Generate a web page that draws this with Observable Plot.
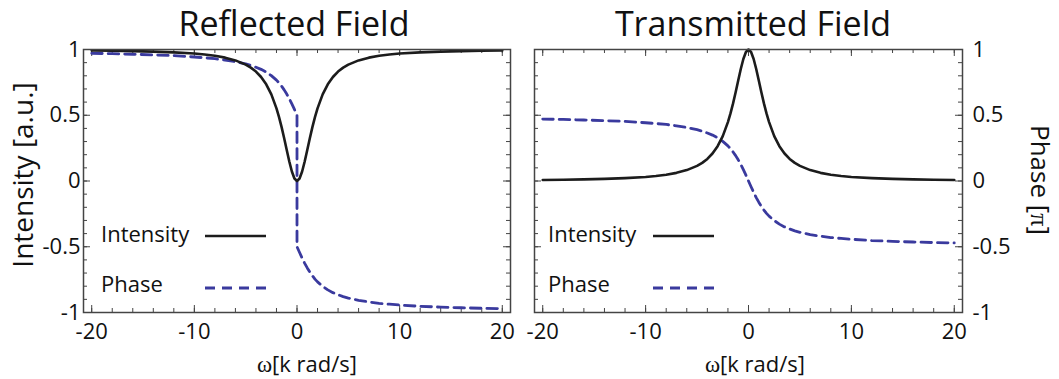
<!DOCTYPE html>
<html>
<head>
<meta charset="utf-8">
<script src="https://cdn.jsdelivr.net/npm/d3@7"></script>
<script src="https://cdn.jsdelivr.net/npm/@observablehq/plot@0.6"></script>
<style>
  html, body { margin: 0; padding: 0; background: #fff; }
  #wrap { position: relative; width: 1059px; height: 379px; overflow: hidden; font-family: 'Open Sans', sans-serif; }
  #wrap > .panel { position: absolute; top: 0; }
  #wrap svg { overflow: visible; }
  #overlay { position: absolute; left: 0; top: 0; pointer-events: none; }
</style>
</head>
<body>
<div id="wrap"></div>
<script>
// ---------------- data ----------------
const panelTitles = ["Reflected Field", "Transmitted Field"];
const xLabelText = "k rad/s";
const legendLabels = ["Intensity", "Phase"];
const xTicks = [-20, -10, 0, 10, 20];
const xMinorTicks = [-20, -18, -16, -14, -12, -10, -8, -6, -4, -2, 0, 2, 4, 6, 8, 10, 12, 14, 16, 18, 20];
const yTicks = [-1, -0.5, 0, 0.5, 1];
const yTickLabels = ["-1", "-0.5", "0", "0.5", "1"];
const yMinorTicks = [-1, -0.9, -0.8, -0.7, -0.6, -0.5, -0.4, -0.3, -0.2, -0.1, 0, 0.1, 0.2, 0.3, 0.4, 0.5, 0.6, 0.7, 0.8, 0.9, 1];

const omega = [-20, -18, -16, -14, -12, -10, -9, -8, -7, -6, -5, -4.5, -4, -3.5, -3, -2.5, -2, -1.75, -1.5, -1.25, -1, -0.75, -0.5, -0.25,
  0, 0.25, 0.5, 0.75, 1, 1.25, 1.5, 1.75, 2, 2.5, 3, 3.5, 4, 4.5, 5, 6, 7, 8, 9, 10, 12, 14, 16, 18, 20];

const reflIntensity = [0.992, 0.990, 0.988, 0.984, 0.978, 0.969, 0.962, 0.952, 0.938, 0.917, 0.885, 0.862, 0.832, 0.791, 0.735, 0.659, 0.552, 0.486, 0.410, 0.325, 0.236, 0.148, 0.072, 0.019,
  0, 0.019, 0.072, 0.148, 0.236, 0.325, 0.410, 0.486, 0.552, 0.659, 0.735, 0.791, 0.832, 0.862, 0.885, 0.917, 0.938, 0.952, 0.962, 0.969, 0.978, 0.984, 0.988, 0.990, 0.992];

// reflected phase jumps from +0.5 to -0.5 at omega = 0 (vertical segment)
const reflPhaseOmega = [-20, -18, -16, -14, -12, -10, -9, -8, -7, -6, -5, -4.5, -4, -3.5, -3, -2.5, -2, -1.75, -1.5, -1.25, -1, -0.75, -0.5, -0.25,
  0, 0, 0.25, 0.5, 0.75, 1, 1.25, 1.5, 1.75, 2, 2.5, 3, 3.5, 4, 4.5, 5, 6, 7, 8, 9, 10, 12, 14, 16, 18, 20];
const reflPhase = [0.971, 0.968, 0.964, 0.959, 0.953, 0.943, 0.937, 0.930, 0.920, 0.907, 0.890, 0.879, 0.865, 0.849, 0.828, 0.801, 0.767, 0.746, 0.721, 0.693, 0.661, 0.626, 0.586, 0.544,
  0.5, -0.5, -0.544, -0.586, -0.626, -0.661, -0.693, -0.721, -0.746, -0.767, -0.801, -0.828, -0.849, -0.865, -0.879, -0.890, -0.907, -0.920, -0.930, -0.937, -0.943, -0.953, -0.959, -0.964, -0.968, -0.971];

const transIntensity = [0.008, 0.010, 0.012, 0.016, 0.022, 0.031, 0.038, 0.048, 0.062, 0.083, 0.115, 0.138, 0.168, 0.209, 0.265, 0.341, 0.448, 0.514, 0.590, 0.675, 0.764, 0.852, 0.928, 0.981,
  1, 0.981, 0.928, 0.852, 0.764, 0.675, 0.590, 0.514, 0.448, 0.341, 0.265, 0.209, 0.168, 0.138, 0.115, 0.083, 0.062, 0.048, 0.038, 0.031, 0.022, 0.016, 0.012, 0.010, 0.008];

const transPhase = [0.471, 0.468, 0.464, 0.459, 0.453, 0.443, 0.437, 0.430, 0.420, 0.407, 0.390, 0.379, 0.365, 0.349, 0.328, 0.301, 0.267, 0.246, 0.221, 0.193, 0.161, 0.126, 0.086, 0.044,
  0, -0.044, -0.086, -0.126, -0.161, -0.193, -0.221, -0.246, -0.267, -0.301, -0.328, -0.349, -0.365, -0.379, -0.390, -0.407, -0.420, -0.430, -0.437, -0.443, -0.453, -0.459, -0.464, -0.468, -0.471];

// ---------------- drawing ----------------
const W = 1059, H = 379;
const INK = "#1c1c1c", BLUE = "#3a3a9e", FRAME = "#444";
const DASH = "10.5,6";
const FONT = "'Open Sans', sans-serif";
const mT = 49, mB = 67;
const frameH = H - mT - mB;

const toRows = (xs, ys) => xs.map((w, i) => ({w, v: ys[i]}));

function panel({left, width, mL, mR, intensity, phase, phaseX, yAnchor, yPad}) {
  const frameW = width - mL - mR;
  const tickMarks = (vals, len) => [
    Plot.tickX(vals, {x: d => d, insetTop: frameH - len, stroke: FRAME, strokeWidth: 1}),
    Plot.tickX(vals, {x: d => d, insetBottom: frameH - len, stroke: FRAME, strokeWidth: 1})
  ];
  const tickMarksY = (vals, len) => [
    Plot.tickY(vals, {y: d => d, insetRight: frameW - len, stroke: FRAME, strokeWidth: 1}),
    Plot.tickY(vals, {y: d => d, insetLeft: frameW - len, stroke: FRAME, strokeWidth: 1})
  ];
  const chart = Plot.plot({
    width, height: H,
    marginLeft: mL, marginRight: mR, marginTop: mT, marginBottom: mB,
    x: {domain: [-20.8, 20.8]},
    y: {domain: [-1, 1]},
    style: {fontFamily: FONT, fontSize: "22px", color: "#111", background: "transparent", overflow: "visible"},
    marks: [
      ...tickMarks(xMinorTicks, 4),
      ...tickMarks(xTicks, 7),
      ...tickMarksY(yMinorTicks, 4),
      ...tickMarksY(yTicks, 7),
      Plot.axisX({ticks: xTicks, tickSize: 0, tickPadding: 11, label: null, tickFormat: d => String(d), fill: "#111"}),
      Plot.axisY({anchor: yAnchor, ticks: yTicks, tickSize: 0, tickPadding: yPad, label: null,
        tickFormat: d => yTickLabels[yTicks.indexOf(d)], fill: "#111"}),
      Plot.line(toRows(phaseX, phase), {x: "w", y: "v", stroke: BLUE, strokeWidth: 2.8, strokeDasharray: DASH, curve: "linear"}),
      Plot.line(toRows(omega, intensity), {x: "w", y: "v", stroke: INK, strokeWidth: 2.6, curve: "linear"}),
      Plot.frame({stroke: FRAME, strokeWidth: 1.5})
    ]
  });
  const div = document.createElement("div");
  div.className = "panel";
  div.style.left = left + "px";
  div.appendChild(chart);
  return div;
}

const wrap = document.getElementById("wrap");
wrap.appendChild(panel({left: 0, width: 530, mL: 83, mR: 20, intensity: reflIntensity, phase: reflPhase, phaseX: reflPhaseOmega, yAnchor: "left", yPad: 3}));
wrap.appendChild(panel({left: 530, width: 529, mL: 4, mR: 97, intensity: transIntensity, phase: transPhase, phaseX: omega, yAnchor: "right", yPad: 10}));

// overlay: titles, axis titles, legends
const svg = d3.select(wrap).append("svg").attr("id", "overlay").attr("width", W).attr("height", H)
  .style("font-family", FONT).style("fill", "#111");

const titleX = [294, 753];
panelTitles.forEach((t, i) => {
  svg.append("text").attr("x", titleX[i]).attr("y", 36).attr("text-anchor", "middle")
    .style("font-size", "34px").text(t);
});

// x-axis titles
[307, 755].forEach(cx => {
  const t = svg.append("text").attr("x", cx).attr("y", 372).attr("text-anchor", "middle").style("font-size", "22px");
  t.append("tspan").style("font-family", "'Liberation Serif', 'DejaVu Serif', serif").style("font-size", "23px").text("ω");
  t.append("tspan").text("[" + xLabelText + "]");
});

// left y title
svg.append("text").attr("transform", "translate(33,175) rotate(-90)").attr("text-anchor", "middle")
  .style("font-size", "28px").text("Intensity [a.u.]");

// right y title
const pt = svg.append("text").attr("transform", "translate(1031,180) rotate(90)").attr("text-anchor", "middle")
  .style("font-size", "26px");
pt.append("tspan").text("Phase [");
pt.append("tspan").style("font-family", "'Liberation Serif', 'DejaVu Serif', serif").text("π");
pt.append("tspan").text("]");

// legends
const legendPos = [{tx: 101, lx1: 205, lx2: 266}, {tx: 548, lx1: 653, lx2: 714}];
const legendRows = [{ly: 236, ty: 242}, {ly: 288, ty: 292}];
legendPos.forEach(p => {
  legendLabels.forEach((lab, j) => {
    const r = legendRows[j];
    svg.append("text").attr("x", p.tx).attr("y", r.ty).style("font-size", "22px").text(lab);
    svg.append("line").attr("x1", p.lx1).attr("x2", p.lx2).attr("y1", r.ly).attr("y2", r.ly)
      .attr("stroke", j === 0 ? INK : BLUE).attr("stroke-width", j === 0 ? 2.6 : 2.8)
      .attr("stroke-dasharray", j === 0 ? null : "10,7");
  });
});
</script>
</body>
</html>
